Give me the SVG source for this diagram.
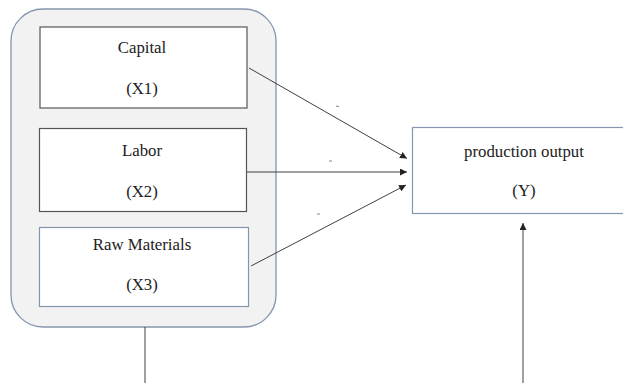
<svg xmlns="http://www.w3.org/2000/svg" width="623" height="383" viewBox="0 0 623 383">
<defs>
<style>
.t{font-family:"Liberation Serif","Times New Roman",serif;font-size:16.8px;fill:#222;text-anchor:middle}
.bx{fill:#fff;stroke:#555;stroke-width:1.2}
.bb{fill:#fff;stroke:#8496ae;stroke-width:1.2}
.ln{stroke:#404040;stroke-width:1;fill:none}
</style>
<marker id="ah" viewBox="0 0 10 10" refX="10" refY="5" markerWidth="7" markerHeight="7" markerUnits="userSpaceOnUse" orient="auto">
<path d="M0,0 L10,5 L0,10 Z" fill="#222"/>
</marker>
</defs>
<rect width="623" height="383" fill="#fff"/>
<g id="group">
<rect x="11" y="9" width="265" height="318" rx="32" ry="32" fill="#f2f2f2" stroke="#8496ae" stroke-width="1.3"/>
</g>
<g id="capital">
<rect class="bx" x="40" y="27" width="207" height="81"/>
<text class="t" x="142" y="53">Capital</text>
<text class="t" x="142" y="94">(X1)</text>
</g>
<g id="labor">
<rect class="bx" x="39.5" y="128.5" width="207" height="83"/>
<text class="t" x="142" y="156">Labor</text>
<text class="t" x="142" y="197">(X2)</text>
</g>
<g id="raw">
<rect class="bb" x="39.5" y="227.5" width="209" height="79"/>
<text class="t" x="142" y="250">Raw Materials</text>
<text class="t" x="142" y="290">(X3)</text>
</g>
<g id="output">
<rect class="bb" x="412.5" y="127.5" width="220" height="86"/>
<text class="t" x="524" y="157">production output</text>
<text class="t" x="524" y="196">(Y)</text>
</g>
<g id="connectors">
<line class="ln" x1="249" y1="68" x2="407" y2="158.5" marker-end="url(#ah)"/>
<line class="ln" x1="247" y1="172" x2="407" y2="172" marker-end="url(#ah)"/>
<line class="ln" x1="251" y1="266" x2="406" y2="185" marker-end="url(#ah)"/>
<line class="ln" x1="145" y1="327" x2="145" y2="383"/>
<line class="ln" x1="523" y1="383" x2="523" y2="223" marker-end="url(#ah)"/>
</g>
<g id="marks" stroke="#888" stroke-width="1">
<line x1="336" y1="106" x2="339" y2="106.5"/>
<line x1="329" y1="161" x2="332" y2="161"/>
<line x1="317" y1="214" x2="320" y2="214"/>
</g>
</svg>
